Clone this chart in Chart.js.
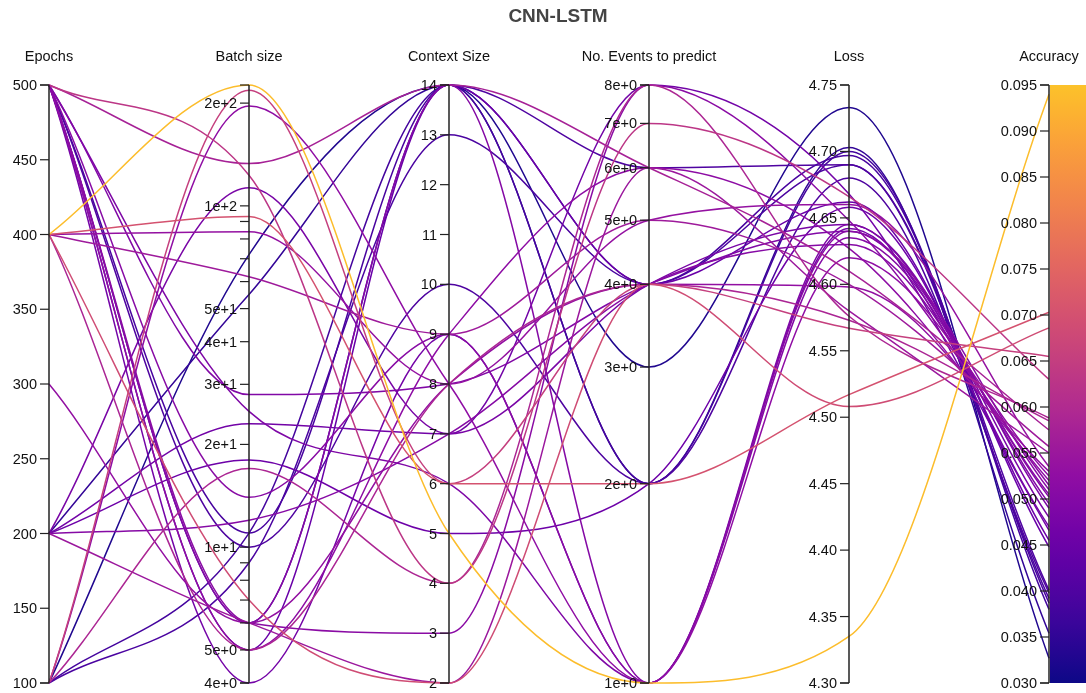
<!DOCTYPE html>
<html>
<head>
<meta charset="utf-8">
<title>CNN-LSTM</title>
<script src="https://cdn.jsdelivr.net/npm/chart.js@4.4.1/dist/chart.umd.min.js"></script>
<style>
  html, body { margin: 0; padding: 0; background: #fff; }
  #wrap { width: 1086px; height: 693px; }
</style>
</head>
<body>
<div id="wrap"><canvas id="chart" width="1086" height="693"></canvas></div>
<script>
// one value per training run, same order in every array
const epochs          = [400, 400, 400, 100, 500, 100, 400, 500, 400, 200, 400, 300, 100, 500, 500, 500,
                         200, 500, 500, 500, 200, 500, 200, 200, 500, 500, 500, 100, 500, 100, 200, 100];
const batchSize       = [226, 93, 7, 218, 123, 17, 5, 133, 62, 6, 84, 6, 196, 5, 6, 14,
                         12, 6, 28, 25, 113, 4, 23, 18, 5, 6, 10, 9, 11, 11, 55, 72];
const contextSize     = [5, 6, 2, 6, 4, 4, 8, 14, 9, 2, 8, 8, 8, 9, 3, 9,
                         7, 14, 8, 6, 7, 9, 7, 5, 14, 14, 10, 13, 14, 14, 14, 14];
const eventsToPredict = [1, 2, 4, 4, 7, 8, 4, 6, 5, 6, 5, 4, 1, 6, 8, 1,
                         4, 1, 4, 1, 4, 1, 8, 2, 4, 6, 2, 4, 4, 2, 2, 3];
const loss            = [4.335, 4.517, 4.508, 4.567, 4.666, 4.576, 4.573, 4.610, 4.600, 4.580, 4.660, 4.598, 4.620, 4.627, 4.648, 4.640,
                         4.630, 4.635, 4.640, 4.645, 4.645, 4.642, 4.668, 4.658, 4.662, 4.690, 4.680, 4.690, 4.697, 4.700, 4.703, 4.733];
const accuracy        = [0.094, 0.0703, 0.0686, 0.0655, 0.063, 0.0588, 0.0585, 0.0575, 0.0557, 0.055, 0.0535, 0.053, 0.0525, 0.052, 0.0515, 0.051,
                         0.0505, 0.0502, 0.0495, 0.049, 0.048, 0.047, 0.0466, 0.0455, 0.0448, 0.0401, 0.0398, 0.0392, 0.0387, 0.038, 0.0354, 0.0327];

// tick labels
const epochTicks   = [100, 150, 200, 250, 300, 350, 400, 450, 500];
const batchTicks   = [4, 5, 6, 7, 8, 9, 10, 20, 30, 40, 50, 60, 70, 80, 90, 100, 200];
const batchLabeled = [4, 5, 10, 20, 30, 40, 50, 100, 200];
const contextTicks = [2, 3, 4, 5, 6, 7, 8, 9, 10, 11, 12, 13, 14];
const eventTicks   = [1, 2, 3, 4, 5, 6, 7, 8];
const lossTicks    = [4.30, 4.35, 4.40, 4.45, 4.50, 4.55, 4.60, 4.65, 4.70, 4.75];
const accTicks     = [0.030, 0.035, 0.040, 0.045, 0.050, 0.055, 0.060, 0.065, 0.070, 0.075, 0.080, 0.085, 0.090, 0.095];

const axes = [
  { id: 'epochs',  title: 'Epochs',                type: 'linear',      min: 100,  max: 500,   ticks: epochTicks,   values: epochs,          fmt: v => String(v) },
  { id: 'batch',   title: 'Batch size',            type: 'logarithmic', min: 4,    max: 226,   ticks: batchTicks,   values: batchSize,       fmt: v => batchLabeled.includes(v) ? v.toExponential() : '' },
  { id: 'context', title: 'Context Size',          type: 'linear',      min: 2,    max: 14,    ticks: contextTicks, values: contextSize,     fmt: v => String(v) },
  { id: 'events',  title: 'No. Events to predict', type: 'logarithmic', min: 1,    max: 8,     ticks: eventTicks,   values: eventsToPredict, fmt: v => v.toExponential() },
  { id: 'loss',    title: 'Loss',                  type: 'linear',      min: 4.30, max: 4.75,  ticks: lossTicks,    values: loss,            fmt: v => v.toFixed(2) },
  { id: 'acc',     title: 'Accuracy',              type: 'linear',      min: 0.03, max: 0.095, ticks: accTicks,     values: accuracy,        fmt: v => v.toFixed(3) }
];

// plasma colour map (the chart stops a bit before the bright yellow end)
const plasmaStops = ['#0d0887', '#41049d', '#6a00a8', '#8f0da4', '#b12a90', '#cc4778',
                     '#e16462', '#f2844b', '#fca636', '#fcce25', '#f0f921'];
const PLASMA_TOP = 0.87;

function hexToRgb(h) {
  return [1, 3, 5].map(i => parseInt(h.slice(i, i + 2), 16));
}
function plasma(t) {
  t = Math.max(0, Math.min(1, t)) * (plasmaStops.length - 1);
  const i = Math.min(Math.floor(t), plasmaStops.length - 2);
  const f = t - i;
  const a = hexToRgb(plasmaStops[i]), b = hexToRgb(plasmaStops[i + 1]);
  const c = a.map((v, k) => Math.round(v + (b[k] - v) * f));
  return `rgb(${c[0]},${c[1]},${c[2]})`;
}
const accColor = v => plasma((v - 0.03) / (0.095 - 0.03) * PLASMA_TOP);

const FONT = '"Liberation Sans", Arial, Helvetica, sans-serif';

const axesPlugin = {
  id: 'pcAxes',
  afterDatasetsDraw(chart) {
    const { ctx } = chart;
    const xs = chart.scales.x;
    ctx.save();

    // colour bar next to the accuracy axis
    const acc = chart.scales.acc;
    const xa = Math.round(xs.getPixelForValue(axes.length - 1));
    const grad = ctx.createLinearGradient(0, acc.getPixelForValue(0.03), 0, acc.getPixelForValue(0.095));
    for (let k = 0; k <= 20; k++) grad.addColorStop(k / 20, plasma(k / 20 * PLASMA_TOP));
    ctx.fillStyle = grad;
    ctx.fillRect(xa + 1, acc.top, chart.width - xa - 1, acc.bottom - acc.top);

    axes.forEach((a, k) => {
      const s = chart.scales[a.id];
      const x = Math.round(xs.getPixelForValue(k));

      ctx.strokeStyle = '#222';
      ctx.lineWidth = 1.5;
      ctx.beginPath();
      ctx.moveTo(x, s.top);
      ctx.lineTo(x, s.bottom);
      ctx.stroke();

      ctx.lineWidth = 1.2;
      const marks = [a.min].concat(s.ticks.map(t => t.value), [a.max]);
      marks.forEach(v => {
        const y = s.getPixelForValue(v);
        ctx.beginPath();
        ctx.moveTo(x - 9, y);
        ctx.lineTo(x, y);
        ctx.stroke();
      });

      ctx.fillStyle = '#111';
      ctx.font = `14.5px ${FONT}`;
      ctx.textAlign = 'right';
      ctx.textBaseline = 'middle';
      s.ticks.forEach(t => {
        const label = a.fmt(t.value);
        if (label) ctx.fillText(label, x - 12, s.getPixelForValue(t.value) + 1);
      });

      ctx.textAlign = 'center';
      ctx.fillText(a.title, x, 57);
    });

    ctx.fillStyle = '#444';
    ctx.font = `bold 19px ${FONT}`;
    ctx.textAlign = 'center';
    ctx.fillText('CNN-LSTM', 558, 17);
    ctx.restore();
  }
};

const scales = {
  x:  { type: 'linear', min: 0, max: axes.length - 1, display: false },
  yn: { type: 'linear', axis: 'y', min: 0, max: 1, display: false }
};
axes.forEach(a => {
  scales[a.id] = {
    type: a.type, axis: 'y', min: a.min, max: a.max, display: false,
    afterBuildTicks: s => { s.ticks = a.ticks.map(v => ({ value: v })); }
  };
});

const datasets = accuracy.map(v => ({
  data: [],
  yAxisID: 'yn',
  borderColor: accColor(v),
  borderWidth: 1.5,
  pointRadius: 0,
  fill: false,
  clip: false,
  cubicInterpolationMode: 'monotone'
}));

const chart = new Chart(document.getElementById('chart'), {
  type: 'line',
  data: { datasets },
  options: {
    responsive: false,
    animation: false,
    devicePixelRatio: 1,
    events: [],
    layout: { padding: { left: 49, right: 37, top: 85, bottom: 10 } },
    scales,
    plugins: { legend: { display: false }, tooltip: { enabled: false }, title: { display: false } }
  },
  plugins: [axesPlugin]
});

// place every run on each axis through that axis' own scale
datasets.forEach((ds, i) => {
  ds.data = axes.map((a, k) => {
    const s = chart.scales[a.id];
    return { x: k, y: (s.bottom - s.getPixelForValue(a.values[i])) / (s.bottom - s.top) };
  });
});
chart.update();
</script>
</body>
</html>
